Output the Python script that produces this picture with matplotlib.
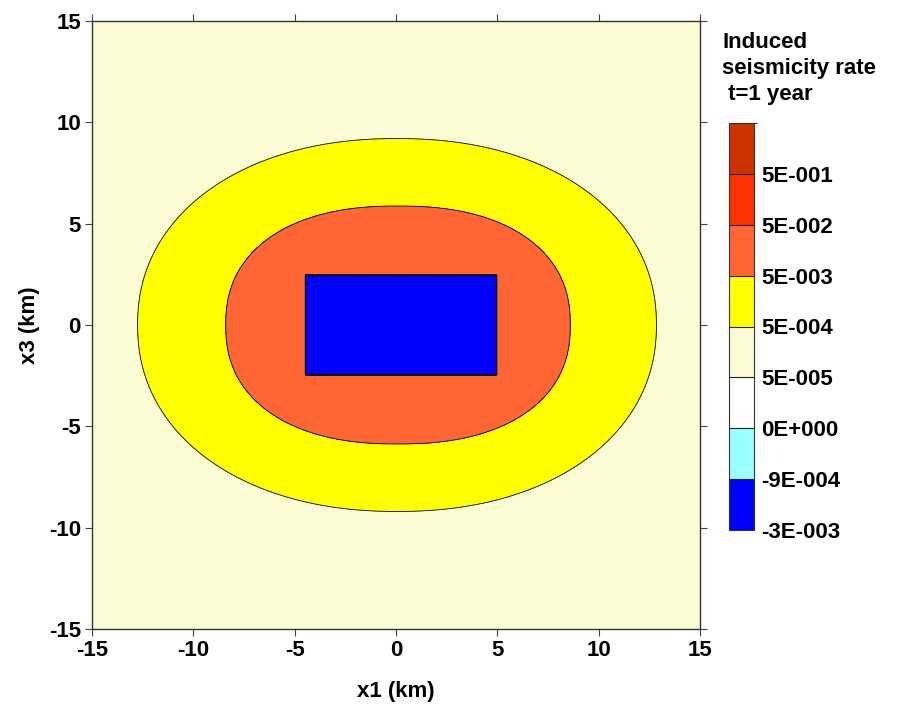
import numpy as np
import matplotlib
matplotlib.use("Agg")
import matplotlib.pyplot as plt
from matplotlib.colors import ListedColormap, BoundaryNorm

plt.rcParams['font.family'] = ['Liberation Sans', 'DejaVu Sans']

# ---- data ----
levels = [-3e-3, -9e-4, 0.0, 5e-5, 5e-4, 5e-3, 5e-2, 5e-1, 5.0]
level_labels = ["-3E-003", "-9E-004", "0E+000", "5E-005", "5E-004",
                "5E-003", "5E-002", "5E-001"]
band_colors = ["#0000FF", "#99FFFF", "#FFFFFF", "#FCFCD4", "#FFFF00",
               "#FF6633", "#FF3300", "#CC3300"]

# contour shapes (superellipses): centre x, semi-axis x, semi-axis z, exponent
outer_shape = [0.05, 12.8, 9.2, 2.15]    # 5E-004 contour
inner_shape = [0.10, 8.5, 5.87, 2.3]     # 5E-003 contour
rate_outer = 5e-4
rate_inner = 5e-3
rate_far = 1e-4
rate_near = 1e-2
# reservoir (negative rate) rectangle: x1 min, x1 max, x3 min, x3 max
reservoir = [-4.5, 5.0, -2.45, 2.45]
rate_reservoir = -2e-3

x1_ticks = [-15, -10, -5, 0, 5, 10, 15]
x3_ticks = [-15, -10, -5, 0, 5, 10, 15]

# ---- field ----
x = np.linspace(-15, 15, 601)
z = np.linspace(-15, 15, 601)
X, Z = np.meshgrid(x, z)

def metric(shape):
    cx, a, b, n = shape
    return ((np.abs(X - cx) / a) ** n + (np.abs(Z) / b) ** n) ** (1.0 / n)

m_out = metric(outer_shape)
m_in = metric(inner_shape)
w = (1.0 - m_out) / np.maximum(m_in - m_out, 1e-9)
L = np.log10(rate_outer) + w * (np.log10(rate_inner) - np.log10(rate_outer))
L = np.clip(L, np.log10(rate_far), np.log10(rate_near))
R = 10.0 ** L
inside = ((X > reservoir[0]) & (X < reservoir[1]) &
          (Z > reservoir[2]) & (Z < reservoir[3]))
R[inside] = rate_reservoir

# ---- figure ----
fig = plt.figure(figsize=(9.0, 7.13), dpi=100)
ax = fig.add_axes([92/900, 1 - 629/713, 608/900, 608/713])
cmap = ListedColormap(band_colors)
norm = BoundaryNorm(levels, cmap.N)
cf = ax.contourf(X, Z, R, levels=levels, cmap=cmap, norm=norm)
ax.contour(X, Z, R, levels=levels[1:-1], colors='k', linewidths=0.6)

ax.set_xlim(-15, 15)
ax.set_ylim(-15, 15)
ax.set_xticks(x1_ticks)
ax.set_yticks(x3_ticks)
ax.set_xticklabels([str(t) for t in x1_ticks])
ax.set_yticklabels([str(t) for t in x3_ticks])
ax.tick_params(direction='out', length=5, width=0.8, color='#444444',
               top=True, right=True, labelsize=16, pad=3)
for lab in ax.get_xticklabels() + ax.get_yticklabels():
    lab.set_fontweight('bold')
for sp in ax.spines.values():
    sp.set_linewidth(1.0)
    sp.set_color('#333333')
ax.set_xlabel("x1 (km)", fontsize=16, fontweight='bold', labelpad=14)
ax.set_ylabel("x3 (km)", fontsize=16, fontweight='bold', labelpad=6)

cax = fig.add_axes([729/900, 1 - 530/713, 25/900, 407/713])
cb = fig.colorbar(cf, cax=cax, spacing='uniform', drawedges=True)
cb.set_ticks(levels[:-1])
cb.set_ticklabels(level_labels)
cb.ax.tick_params(length=0, labelsize=16, pad=5)
for lab in cb.ax.get_yticklabels():
    lab.set_fontweight('bold')
cb.outline.set_linewidth(0.8)
cb.outline.set_edgecolor('#333333')
cb.dividers.set_color('#222222')
cb.dividers.set_linewidth(0.8)

fig.text(722/900, 1 - 32/713, "Induced\nseismicity rate\n t=1 year",
         ha='left', va='top', fontsize=16, fontweight='bold',
         linespacing=1.3)

fig.savefig("out.png", dpi=100)
